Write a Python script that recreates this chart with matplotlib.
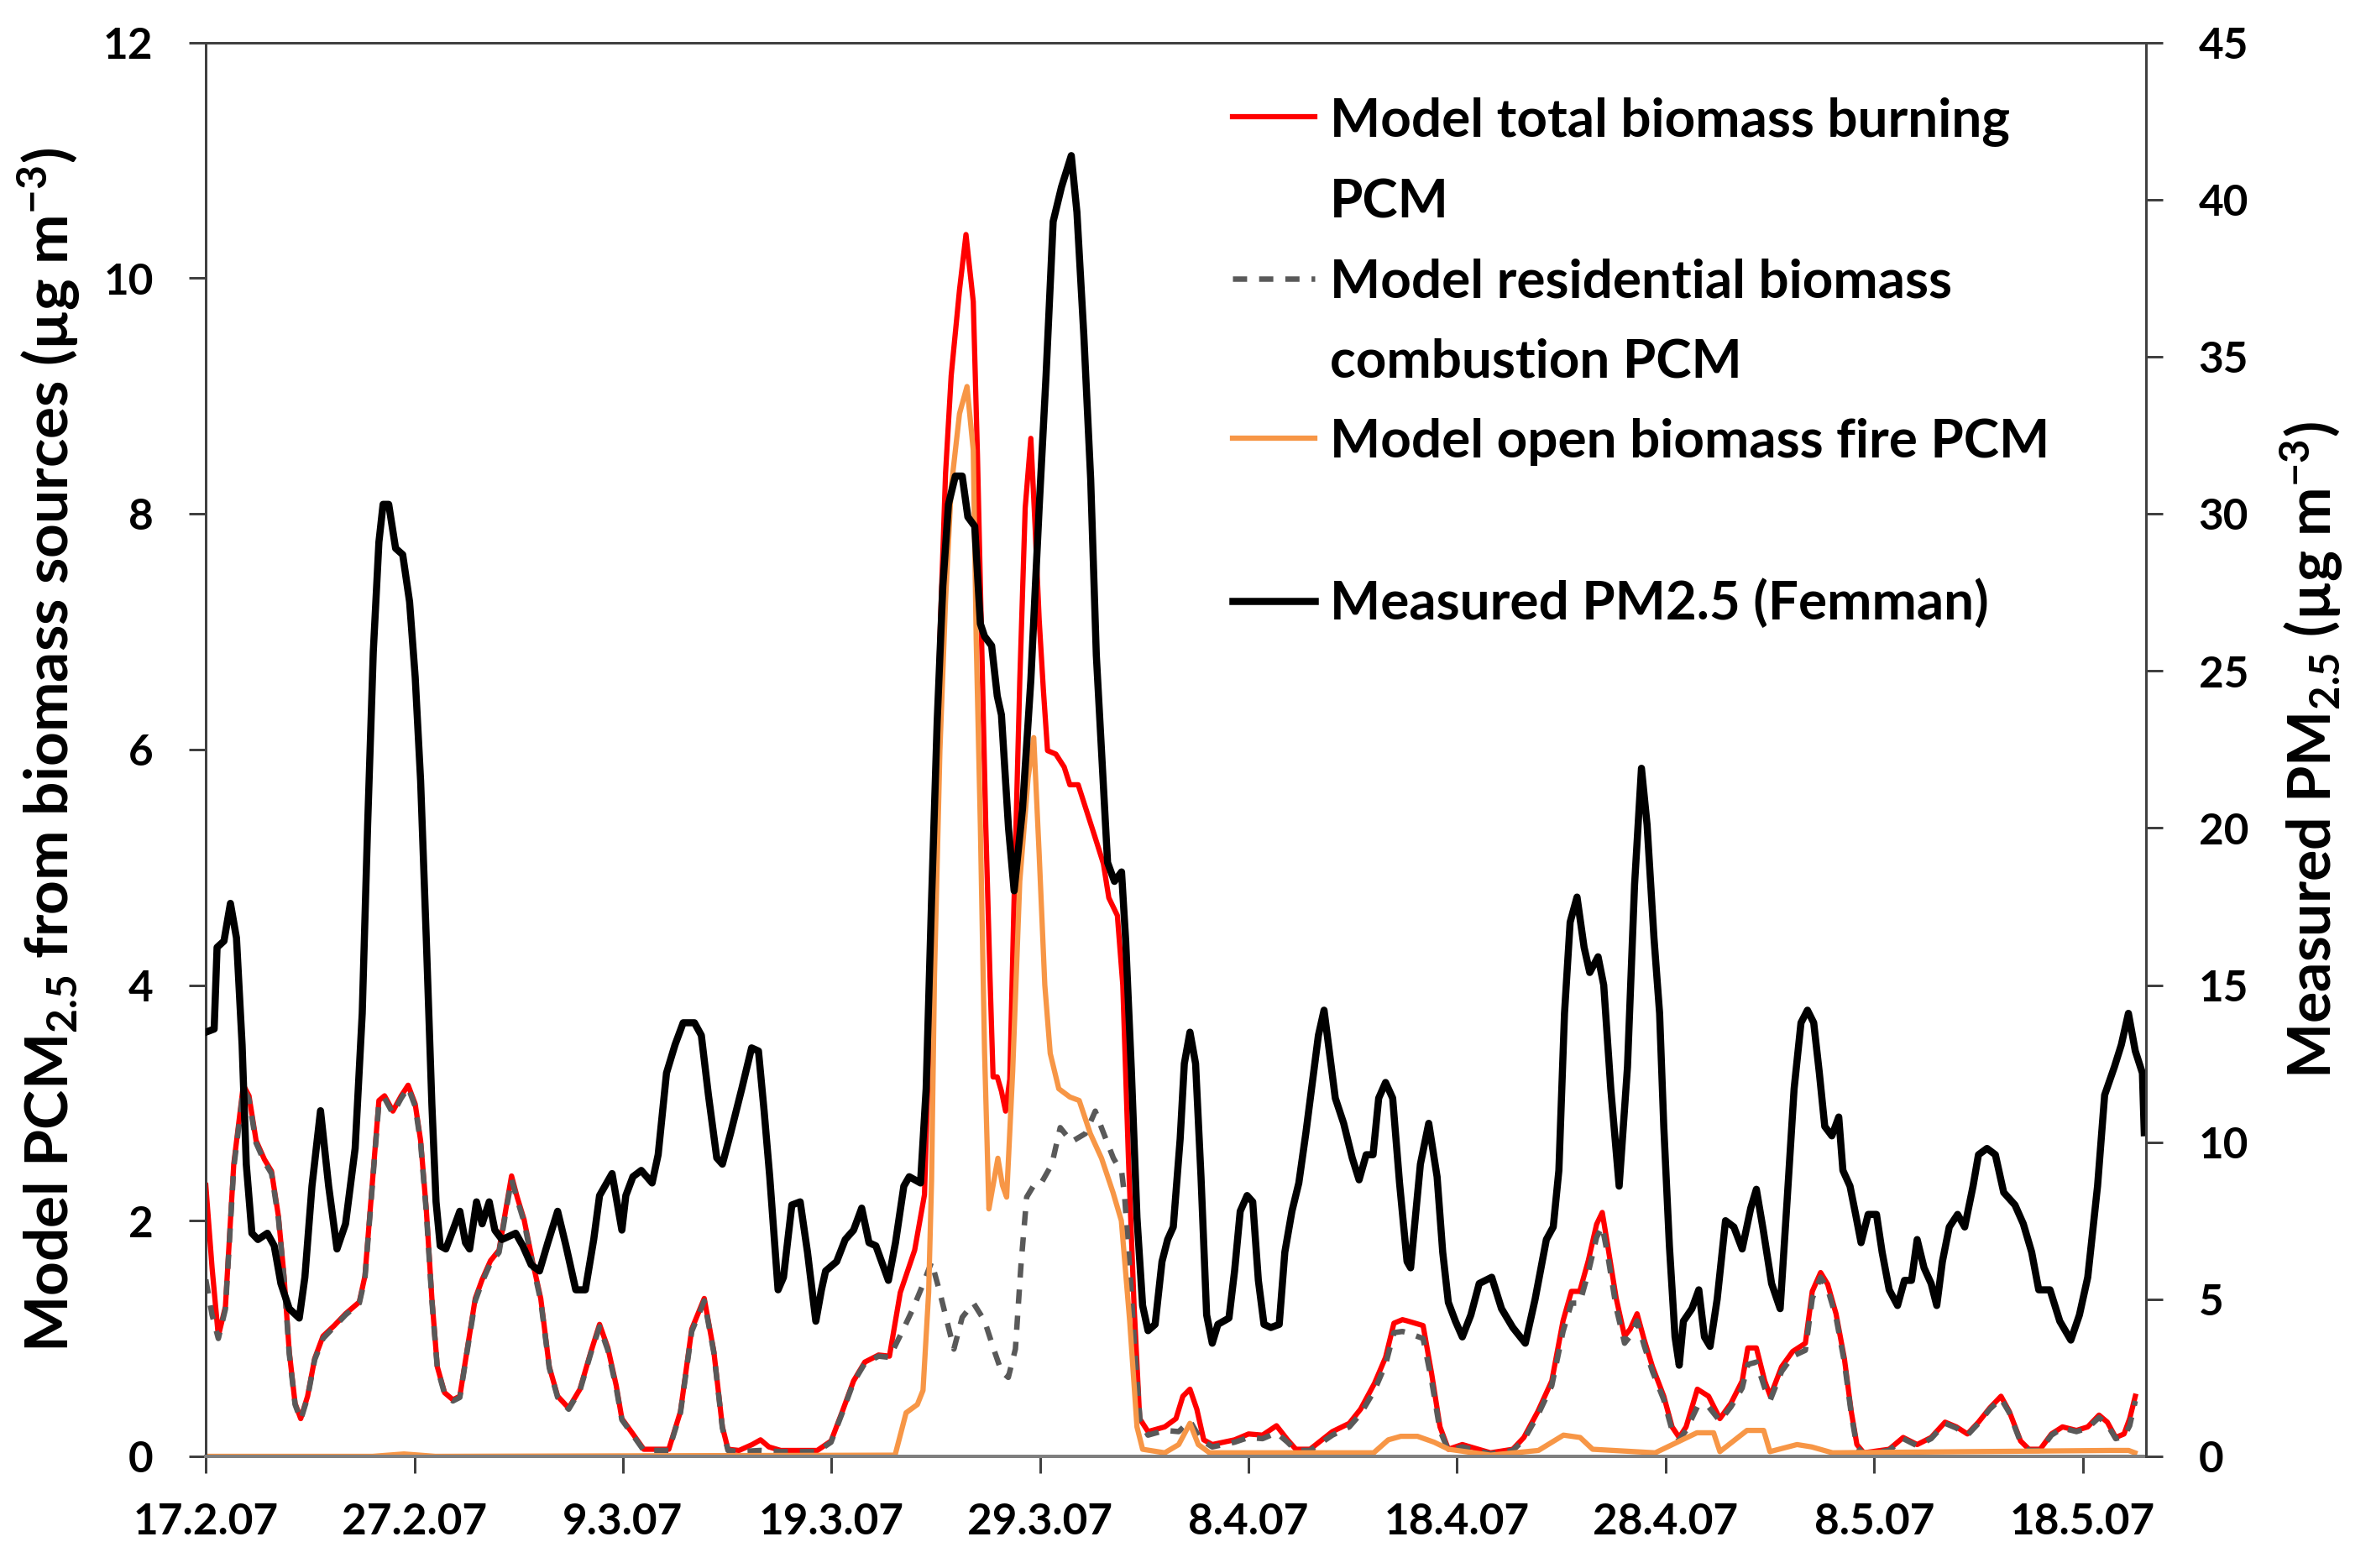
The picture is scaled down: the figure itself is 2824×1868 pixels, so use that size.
import matplotlib
matplotlib.use("Agg")
import matplotlib.pyplot as plt
from matplotlib.lines import Line2D

plt.rcParams['font.family'] = ['Lato', 'DejaVu Sans']
plt.rcParams['font.weight'] = 'bold'
plt.rcParams['axes.labelweight'] = 'bold'
plt.rcParams['mathtext.fontset'] = 'custom'
plt.rcParams['mathtext.rm'] = 'Lato:bold'
plt.rcParams['mathtext.it'] = 'Lato:bold'
plt.rcParams['mathtext.bf'] = 'Lato:bold'

# days since 17.2.2007
tick_days = [0, 10, 20, 30, 40, 50, 60, 70, 80, 90]
tick_labels = ['17.2.07', '27.2.07', '9.3.07', '19.3.07', '29.3.07',
               '8.4.07', '18.4.07', '28.4.07', '8.5.07', '18.5.07']

# measured PM2.5 (Femman), ug/m3, right axis
meas_day = [0.0, 0.4, 0.54, 0.87, 1.18, 1.47, 1.74, 1.94, 2.21, 2.5, 2.95, 3.28, 3.6, 4.0, 4.48, 4.75,
            5.09, 5.5, 5.89, 6.29, 6.7, 7.16, 7.5, 7.76, 8.03, 8.3, 8.5, 8.77, 9.1, 9.44, 9.77, 10.04,
            10.3, 10.57, 10.84, 11.04, 11.24, 11.51, 11.85, 12.18, 12.45, 12.65, 12.98, 13.25, 13.59,
            13.86, 14.2, 14.86, 15.2, 15.6, 16.0, 16.4, 16.87, 17.27, 17.74, 18.2, 18.6, 18.88, 19.48,
            19.95, 20.14, 20.48, 20.88, 21.4, 21.69, 22.09, 22.5, 22.89, 23.43, 23.76, 24.1, 24.5,
            24.77, 25.17, 25.7, 26.17, 26.5, 26.77, 27.04, 27.44, 27.7, 28.1, 28.5, 28.85, 29.25,
            29.52, 29.72, 30.25, 30.66, 31.06, 31.45, 31.8, 32.13, 32.73, 33.07, 33.47, 33.73, 34.27,
            34.54, 34.8, 35.07, 35.34, 35.61, 35.94, 36.27, 36.54, 36.87, 37.14, 37.34, 37.68, 37.95,
            38.15, 38.49, 38.76, 39.16, 39.56, 39.96, 40.29, 40.63, 41.03, 41.5, 41.77, 42.1, 42.43,
            42.7, 42.97, 43.24, 43.57, 43.91, 44.11, 44.38, 44.65, 44.92, 45.18, 45.52, 45.85, 46.12,
            46.39, 46.72, 46.92, 47.19, 47.46, 47.72, 47.99, 48.26, 48.53, 49.06, 49.33, 49.6, 49.93,
            50.2, 50.47, 50.74, 51.07, 51.47, 51.74, 52.08, 52.41, 52.75, 53.08, 53.35, 53.62, 53.89,
            54.16, 54.56, 54.97, 55.3, 55.64, 55.97, 56.24, 56.57, 56.91, 57.24, 57.6, 57.77, 58.24,
            58.64, 59.04, 59.31, 59.58, 59.92, 60.25, 60.66, 61.06, 61.66, 62.13, 62.67, 63.27, 63.74,
            64.28, 64.61, 64.88, 65.15, 65.42, 65.75, 66.09, 66.36, 66.76, 67.03, 67.37, 67.77, 68.17,
            68.51, 68.84, 69.11, 69.44, 69.71, 69.91, 70.18, 70.45, 70.65, 70.85, 71.26, 71.59, 71.86,
            72.13, 72.47, 72.87, 73.27, 73.67, 74.08, 74.35, 74.68, 75.08, 75.49, 75.82, 76.16, 76.49,
            76.8, 77.1, 77.37, 77.63, 77.97, 78.3, 78.5, 78.84, 79.11, 79.37, 79.71, 80.11, 80.38,
            80.72, 81.12, 81.45, 81.79, 82.06, 82.39, 82.73, 83.0, 83.27, 83.6, 84.0, 84.34, 84.74,
            85.0, 85.41, 85.81, 86.21, 86.75, 87.15, 87.55, 87.89, 88.43, 88.9, 89.43, 89.84, 90.24,
            90.71, 91.05, 91.52, 91.85, 92.19, 92.52, 92.86, 92.95]
meas_pm25 = [13.5, 13.6, 16.2, 16.4, 17.6, 16.5, 13.1, 9.3, 7.1, 6.9, 7.1, 6.7, 5.5, 4.7, 4.4, 5.7,
             8.6, 11.0, 8.6, 6.6, 7.4, 9.8, 14.1, 20.1, 25.6, 29.1, 30.3, 30.3, 28.9, 28.7, 27.2, 24.8,
             21.5, 16.5, 11.2, 8.1, 6.7, 6.6, 7.2, 7.8, 6.8, 6.6, 8.1, 7.4, 8.1,
             7.2, 6.9, 7.1, 6.7, 6.1, 5.9, 6.8, 7.8, 6.7, 5.3, 5.3, 6.9, 8.3, 9.0,
             7.2, 8.3, 8.9, 9.1, 8.7, 9.6, 12.2, 13.1, 13.8, 13.8, 13.4, 11.5, 9.5,
             9.3, 10.3, 11.7, 13.0, 12.9, 11.0, 8.9, 5.3, 5.7, 8.0, 8.1, 6.5, 4.3,
             5.3, 5.9, 6.2, 6.9, 7.2, 7.9, 6.8, 6.7, 5.6, 6.8, 8.6, 8.9, 8.7,
             11.7, 17.7, 23.4, 27.7, 30.3, 31.2, 31.2, 29.9, 29.6, 26.5, 26.1, 25.8, 24.2,
             23.6, 20.0, 18.0, 20.6, 24.7, 30.2, 34.4, 39.3, 40.4, 41.4, 39.6, 35.7, 31.1,
             25.5, 22.2, 18.9, 18.3, 18.6, 16.4, 12.3, 7.6, 4.8, 4.0, 4.2, 6.2, 6.9,
             7.3, 10.1, 12.5, 13.5, 12.5, 8.9, 4.5, 3.6, 4.2, 4.4, 5.9, 7.8, 8.3,
             8.1, 5.6, 4.2, 4.1, 4.2, 6.5, 7.8, 8.7, 10.3, 12.0, 13.4, 14.2, 12.8,
             11.4, 10.6, 9.5, 8.8, 9.6, 9.6, 11.4, 11.9, 11.4, 8.7, 6.2, 6.0, 9.3,
             10.6, 8.9, 6.5, 4.9, 4.3, 3.8, 4.5, 5.5, 5.7, 4.7, 4.1, 3.6, 5.0,
             6.9, 7.3, 9.1, 14.1, 17.0, 17.8, 16.2, 15.4, 15.9, 15.0, 11.7, 8.6, 12.4,
             18.2, 21.9, 20.1, 16.5, 14.1, 10.5, 6.7, 3.8, 2.9, 4.3, 4.7, 5.3, 3.8,
             3.5, 5.0, 7.5, 7.3, 6.6, 7.9, 8.5, 7.2, 5.5, 4.7, 8.1, 11.7, 13.8,
             14.2, 13.8, 12.2, 10.5, 10.2, 10.8, 9.1, 8.6, 7.7, 6.8, 7.7, 7.7, 6.5,
             5.3, 4.8, 5.6, 5.6, 6.9, 6.0, 5.5, 4.8, 6.2, 7.3, 7.7, 7.3, 8.6,
             9.6, 9.8, 9.6, 8.4, 8.0, 7.4, 6.5, 5.3, 5.3, 4.3, 3.7, 4.5, 5.7,
             8.6, 11.5, 12.4, 13.1, 14.1, 12.9, 12.2, 10.3]

# model total biomass burning PCM2.5, ug/m3, left axis
total_day = [0.0, 0.3, 0.6, 0.94, 1.34, 1.8, 2.07, 2.41, 2.81, 3.15, 3.48, 3.75, 4.0, 4.28, 4.55, 4.88,
             5.22, 5.62, 6.16, 6.7, 7.36, 7.63, 7.97, 8.3, 8.57, 8.97, 9.37, 9.7, 10.04, 10.3, 10.57,
             10.84, 11.1, 11.45, 11.85, 12.18, 12.52, 12.92, 13.25, 13.65, 14.06, 14.39, 14.66, 14.93,
             15.26, 15.66, 16.06, 16.47, 16.87, 17.4, 17.94, 18.47, 18.88, 19.28, 19.68, 19.95, 20.48,
             21.0, 22.2, 22.76, 23.3, 23.9, 24.36, 24.77, 25.04, 25.57, 26.2, 26.6, 27.0, 27.57, 29.32,
             29.98, 30.52, 31.06, 31.6, 32.26, 32.78, 33.3, 33.99, 34.46, 34.67, 34.94, 35.2, 35.47,
             35.74, 36.14, 36.45, 36.8, 37.0, 37.2, 37.4, 37.6, 37.75, 37.95, 38.15, 38.35, 38.55,
             38.76, 39.03, 39.29, 39.56, 39.76, 39.96, 40.16, 40.36, 40.76, 41.16, 41.43, 41.83, 42.23,
             42.63, 43.04, 43.3, 43.71, 43.97, 44.24, 44.51, 44.78, 45.18, 45.98, 46.52, 46.85, 47.19,
             47.52, 47.85, 48.26, 49.33, 50.0, 50.67, 51.34, 51.87, 52.27, 52.95, 54.02, 54.83, 55.37,
             56.04, 56.57, 56.97, 57.38, 57.6, 58.37, 58.78, 59.18, 59.58, 60.25, 61.6, 62.67, 63.2,
             63.87, 64.54, 65.08, 65.48, 65.88, 66.29, 66.69, 66.96, 67.23, 67.63, 68.03, 68.3, 68.63,
             68.97, 69.37, 69.91, 70.31, 70.65, 70.98, 71.52, 72.06, 72.6, 73.13, 73.67, 73.94, 74.35,
             74.75, 75.02, 75.56, 76.09, 76.7, 77.03, 77.43, 77.77, 78.17, 78.57, 78.9, 79.17, 79.5,
             80.72, 81.39, 82.06, 82.73, 83.4, 83.94, 84.47, 85.0, 85.54, 86.08, 86.48, 87.02, 87.42,
             87.96, 88.5, 89.03, 89.7, 90.24, 90.78, 91.18, 91.58, 91.98, 92.25, 92.52]
total_pcm = [2.3, 1.6, 1.02, 1.27, 2.48, 3.15, 3.06, 2.68, 2.52, 2.42, 2.04, 1.53, 0.89, 0.45, 0.32, 0.51,
             0.83, 1.02, 1.11, 1.21, 1.31, 1.53, 2.29, 3.02, 3.06, 2.93, 3.06, 3.15, 2.99, 2.68, 2.10,
             1.34, 0.76, 0.54, 0.48, 0.51, 0.89, 1.34, 1.50, 1.66, 1.75, 2.10, 2.38, 2.20,
             2.01, 1.66, 1.34, 0.76, 0.51, 0.41, 0.57, 0.89, 1.12, 0.92, 0.60, 0.32, 0.19,
             0.06, 0.06, 0.38, 1.08, 1.34, 0.89, 0.25, 0.06, 0.05, 0.10, 0.14, 0.08, 0.05, 0.05,
             0.13, 0.38, 0.64, 0.80, 0.86, 0.85, 1.39, 1.75, 2.22, 3.44, 5.35, 6.94, 8.34,
             9.17, 9.9, 10.37, 9.8, 8.5, 6.94, 5.35, 4.08, 3.22, 3.22, 3.1, 2.93, 3.2,
             4.74, 6.58, 8.05, 8.64, 7.91, 7.10, 6.51, 5.99, 5.96, 5.85, 5.70, 5.70, 5.48,
             5.26, 5.03, 4.74, 4.59, 4.00, 2.53, 1.28, 0.32, 0.21, 0.25, 0.32, 0.51, 0.57,
             0.40, 0.14, 0.10, 0.14, 0.19, 0.18, 0.26, 0.14, 0.06, 0.06, 0.21, 0.28, 0.40,
             0.62, 0.84, 1.13, 1.16, 1.15, 1.11, 0.70, 0.25, 0.06, 0.10, 0.03, 0.06, 0.16,
             0.38, 0.64, 1.15, 1.40, 1.40, 1.66, 1.97, 2.07, 1.78, 1.34, 1.02, 1.08, 1.21,
             0.99, 0.76, 0.51, 0.25, 0.16, 0.25, 0.57, 0.51, 0.32, 0.45, 0.64, 0.92, 0.92,
             0.64, 0.51, 0.76, 0.89, 0.96, 1.40, 1.56, 1.46, 1.21, 0.83, 0.38, 0.10, 0.03,
             0.06, 0.16, 0.10, 0.16, 0.29, 0.25, 0.19, 0.29, 0.41, 0.51, 0.38, 0.13, 0.06,
             0.06, 0.19, 0.25, 0.22, 0.25, 0.35, 0.29, 0.16, 0.19, 0.32, 0.51]

# model residential biomass combustion PCM2.5, left axis
resid_day = [0.0, 0.3, 0.6, 0.94, 1.34, 1.8, 2.07, 2.41, 2.81, 3.15, 3.48, 3.75, 4.0, 4.28, 4.55, 4.88,
             5.22, 5.62, 6.16, 6.7, 7.36, 7.63, 7.97, 8.3, 8.57, 8.97, 9.37, 9.7, 10.04, 10.3, 10.57,
             10.84, 11.1, 11.45, 11.85, 12.18, 12.52, 12.92, 13.25, 13.65, 14.06, 14.39, 14.66, 14.93,
             15.26, 15.66, 16.06, 16.47, 16.87, 17.4, 17.94, 18.47, 18.88, 19.28, 19.68, 19.95, 20.48,
             21.0, 22.2, 22.76, 23.3, 23.9, 24.36, 24.77, 25.04, 25.57, 26.6, 27.57, 29.32,
             29.98, 30.52, 31.06, 31.6, 32.26, 32.78, 33.45, 33.9, 34.39, 34.8, 35.2, 35.87, 36.27,
             36.81, 37.34, 37.8, 38.15, 38.48, 38.82, 39.09, 39.36, 39.7, 40.03, 40.57, 40.97, 41.51,
             42.18, 42.65, 42.99, 43.52, 43.92, 44.06, 44.3, 44.55, 44.8, 45.18, 45.98, 46.65, 47.19,
             47.72, 48.26, 49.33, 50.0, 50.67, 51.34, 51.87, 52.27, 52.95, 54.02, 54.83, 55.37,
             56.04, 56.57, 56.97, 57.38, 57.6, 58.37, 58.78, 59.18, 59.58, 60.25, 61.6, 62.67, 63.2,
             63.87, 64.54, 65.08, 65.48, 65.88, 66.29, 66.69, 66.96, 67.23, 67.63, 68.03, 68.3, 68.63,
             68.97, 69.37, 69.91, 70.31, 70.65, 70.98, 71.52, 72.06, 72.6, 73.13, 73.67, 73.94, 74.35,
             74.75, 75.02, 75.56, 76.09, 76.7, 77.03, 77.43, 77.77, 78.17, 78.57, 78.9, 79.17, 79.5,
             80.72, 81.39, 82.06, 82.73, 83.4, 83.94, 84.47, 85.0, 85.54, 86.08, 86.48, 87.02, 87.42,
             87.96, 88.5, 89.03, 89.7, 90.24, 90.78, 91.18, 91.58, 91.98, 92.25, 92.52]
resid_pcm = [1.5, 1.2, 1.0, 1.25, 2.45, 3.12, 3.03, 2.66, 2.5, 2.4, 2.02, 1.51, 0.87, 0.44, 0.31, 0.5,
             0.82, 1.0, 1.1, 1.2, 1.3, 1.51, 2.27, 3.0, 3.04, 2.91, 3.04, 3.13, 2.97, 2.66, 2.08,
             1.32, 0.75, 0.53, 0.47, 0.5, 0.88, 1.32, 1.48, 1.64, 1.73, 2.08, 2.35, 2.18,
             1.99, 1.64, 1.32, 0.75, 0.5, 0.4, 0.56, 0.88, 1.1, 0.9, 0.58, 0.31, 0.18,
             0.05, 0.05, 0.37, 1.06, 1.32, 0.88, 0.24, 0.05, 0.04, 0.05, 0.04, 0.04,
             0.12, 0.37, 0.63, 0.79, 0.85, 0.84, 1.08, 1.25, 1.46, 1.65, 1.39, 0.91, 1.18,
             1.30, 1.15, 0.9, 0.72, 0.67, 0.91, 1.63, 2.20, 2.3, 2.31, 2.48, 2.79, 2.67,
             2.74, 2.93, 2.77, 2.53, 2.41, 2.2, 1.6, 0.9, 0.3, 0.18, 0.22, 0.21, 0.3,
             0.14, 0.08, 0.12, 0.16, 0.15, 0.2, 0.12, 0.05, 0.05, 0.18, 0.25, 0.36,
             0.56, 0.78, 1.05, 1.06, 1.05, 1.0, 0.64, 0.22, 0.05, 0.08, 0.02, 0.05, 0.14,
             0.35, 0.6, 1.06, 1.3, 1.3, 1.56, 1.86, 1.95, 1.7, 1.26, 0.96, 1.02, 1.15,
             0.94, 0.72, 0.48, 0.22, 0.14, 0.22, 0.42, 0.42, 0.3, 0.42, 0.58, 0.78, 0.8,
             0.58, 0.48, 0.72, 0.85, 0.9, 1.34, 1.52, 1.42, 1.18, 0.8, 0.36, 0.08, 0.02,
             0.05, 0.15, 0.09, 0.15, 0.28, 0.24, 0.18, 0.28, 0.4, 0.49, 0.37, 0.12, 0.05,
             0.05, 0.18, 0.24, 0.21, 0.24, 0.33, 0.27, 0.15, 0.17, 0.26, 0.47]

# model open biomass fire PCM2.5, left axis
open_day = [0.0, 8.0, 9.5, 11.0, 33.05, 33.58, 34.12, 34.39, 34.66, 34.8, 34.94, 35.2, 35.47, 35.74,
            36.14, 36.5, 36.8, 36.94, 37.14, 37.34, 37.55, 37.75, 37.98, 38.2, 38.4, 38.69, 39.03,
            39.43, 39.7, 39.96, 40.23, 40.49, 40.9, 41.43, 41.88, 42.41, 42.95, 43.5, 43.9, 44.3,
            44.65, 44.92, 45.98, 46.65, 47.19, 47.59, 48.13, 56.0, 56.7, 57.3, 58.1, 58.9, 59.6, 61.6,
            63.9, 65.1, 65.9, 66.5, 69.5, 71.5, 72.3, 72.6, 73.9, 74.7, 75.0, 76.3, 77.0, 78.0, 91.3,
            92.2, 92.5]
open_pcm = [0.0, 0.0, 0.02, 0.0, 0.01, 0.37, 0.44, 0.56, 1.39, 2.34, 4.08, 5.99, 7.26, 8.22,
            8.85, 9.08, 8.54, 6.94, 5.35, 3.44, 2.10, 2.3, 2.53, 2.3, 2.2, 3.27, 4.88,
            5.76, 6.10, 5.11, 4.00, 3.42, 3.12, 3.05, 3.02, 2.74, 2.53, 2.24, 2.00, 1.15,
            0.25, 0.06, 0.03, 0.10, 0.28, 0.10, 0.03, 0.03, 0.14, 0.17, 0.17, 0.12, 0.06, 0.01,
            0.05, 0.18, 0.16, 0.06, 0.03, 0.2, 0.2, 0.04, 0.22, 0.22, 0.04, 0.1, 0.08, 0.03, 0.05,
            0.05, 0.03]

legend_labels = ['Model total biomass burning', 'PCM',
                 'Model residential biomass', 'combustion PCM',
                 'Model open biomass fire PCM', ' ',
                 'Measured PM2.5 (Femman)']

fig = plt.figure(figsize=(15.69, 10.38), dpi=180)
ax = fig.add_axes([0.0868, 0.0712, 0.8183, 0.9015])
ax2 = ax.twinx()

l_total, = ax.plot(total_day, total_pcm, color='#FF0000', lw=2.5, solid_joinstyle='round')
l_resid, = ax.plot(resid_day, resid_pcm, color='#595959', lw=2.6, ls=(0, (2.6, 2.2)))
l_open, = ax.plot(open_day, open_pcm, color='#F79646', lw=2.5, solid_joinstyle='round')
l_meas, = ax2.plot(meas_day, meas_pm25, color='black', lw=3.4, solid_joinstyle='round')

ax.set_xlim(0, 93.04)
ax.set_ylim(0, 12)
ax2.set_ylim(0, 45)
ax.set_yticks(range(0, 13, 2))
ax2.set_yticks(range(0, 46, 5))
ax.set_xticks(tick_days)
ax.set_xticklabels(tick_labels)

for a in (ax, ax2):
    a.tick_params(axis='both', labelsize=20.5, length=8, width=1.2, colors='#404040', labelcolor='black')
ax.tick_params(axis='y', pad=17)
ax.tick_params(axis='x', pad=14)
ax2.tick_params(axis='y', pad=17)

for side in ('left', 'top'):
    ax.spines[side].set_color('#404040')
    ax.spines[side].set_linewidth(1.2)
ax.spines['bottom'].set_color('#7F7F7F')
ax.spines['bottom'].set_linewidth(1.6)
ax.spines['right'].set_visible(False)
for side in ('left', 'top', 'bottom'):
    ax2.spines[side].set_visible(False)
ax2.spines['right'].set_color('#404040')
ax2.spines['right'].set_linewidth(1.2)

ax.set_ylabel('Model PCM$_{2.5}$ from biomass sources (µg m$^{-3}$)', fontsize=28.5, labelpad=10)
ax2.set_ylabel('Measured PM$_{2.5}$ (µg m$^{-3}$)', fontsize=28, labelpad=14)

blank = Line2D([], [], color='none')
handles = [l_total, blank, l_resid, blank, l_open, blank, l_meas]
ax2.legend(handles, legend_labels, loc='upper left', bbox_to_anchor=(0.529, 0.962),
           frameon=False, fontsize=25.5, handlelength=1.55, handletextpad=0.28,
           labelspacing=0.6, borderpad=0, borderaxespad=0)

fig.savefig('out.png', dpi=180)
